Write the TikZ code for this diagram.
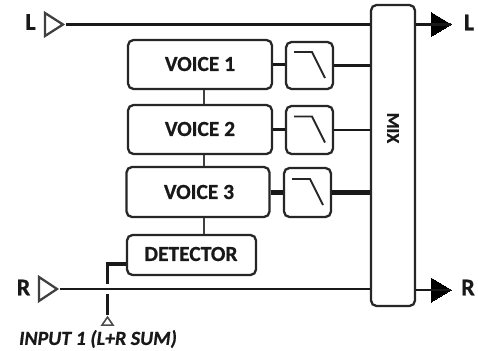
\documentclass[tikz,border=0pt]{standalone}
\usepackage{fontspec}
\setmainfont{Carlito}[BoldFeatures={FakeBold=0.8},BoldItalicFeatures={FakeBold=0.8}]
\usetikzlibrary{shapes.geometric,positioning}
\tikzset{
  x=1pt,y=-1pt,
  lbl/.style={font=\bfseries\fontsize{21.5}{24}\selectfont,text=black!90,inner sep=0pt},
  big/.style={lbl,font=\bfseries\fontsize{24}{26}\selectfont},
  blk/.style={draw=black!85,line width=2.3pt,rounded corners=5.5pt,inner sep=0pt,fill=white},
  sig/.style={draw=black!90,line width=2.5pt},
  fine/.style={draw=black!75,line width=1.5pt},
  intri/.style={isosceles triangle,isosceles triangle stretches,anchor=apex,draw=black!75,line width=2.3pt,fill=white,inner sep=0pt},
  outtri/.style={isosceles triangle,isosceles triangle stretches,anchor=apex,draw=black,fill=black,inner sep=0pt,line width=0pt},
  slope/.style={draw=black!85,line width=1.9pt},
}
\begin{document}
\begin{tikzpicture}
\useasboundingbox (0,0) rectangle (478,350);
% main blocks
\node[blk,minimum width=44pt,minimum height=301pt] (mix) at (393,155.5) {};
\node[lbl,rotate=-90,font=\bfseries\fontsize{18}{20}\selectfont] (mixt) at (393,128) {MIX};
\node[blk,minimum width=144pt,minimum height=49pt] (v1) at (200,64.5) {};
\node[blk,minimum width=144pt,minimum height=49pt] (v2) at (200,129.5) {};
\node[blk,minimum width=143pt,minimum height=50pt] (v3) at (198,192) {};
\node[blk,minimum width=129pt,minimum height=40pt] (det) at (191.5,255) {};
\node[lbl] (v1t) at (200,64) {VOICE 1};
\node[lbl] (v2t) at (200,129) {VOICE 2};
\node[lbl] (v3t) at (199,192) {VOICE 3};
\node[lbl] (dett) at (191,254) {DETECTOR};
\node[blk,minimum width=47pt,minimum height=47pt] (f1) at (309.5,65.5) {};
\node[blk,minimum width=47pt,minimum height=48pt] (f2) at (309.5,130) {};
\node[blk,minimum width=47pt,minimum height=49pt] (f3) at (307.5,192.5) {};
% filter slopes
\foreach \f in {f1,f2,f3}{
  \draw[slope] ([shift={(-15.5,-13.5)}]\f.center) -- ([shift={(2.5,-13.5)}]\f.center) -- ([shift={(15.5,12.5)}]\f.center);
}
% inputs and outputs
\node[intri,minimum height=18pt,minimum width=23pt] (inl) at (66,24.5) {};
\node[intri,minimum height=18pt,minimum width=24pt] (inr) at (60,289) {};
\node[outtri,minimum height=20pt,minimum width=24pt] (outl) at (451,24.5) {};
\node[outtri,minimum height=20pt,minimum width=24pt] (outr) at (451,290) {};
\node[big] (ll) at (30.5,22) {L};
\node[big] (rl) at (23.5,287.5) {R};
\node[big] (lr) at (469,22.5) {L};
\node[big] (rr) at (468,287.5) {R};
% signal lines
\draw[sig] (inl.apex) -- (inl.apex -| mix.west);
\draw[sig] (mix.east |- outl.apex) -- (outl.apex);
\draw[sig,line width=2.1pt] (inr.apex) -- (inr.apex -| mix.west);
\draw[sig,line width=2.1pt] (mix.east |- outr.apex) -- (outr.apex);
\draw[sig] (v1.east) -- (v1.east -| f1.west);
\draw[sig] (f1.east) -- (f1.east -| mix.west);
\draw[sig] (v2.east) -- (v2.east -| f2.west);
\draw[sig] (f2.east) -- (f2.east -| mix.west);
\draw[sig,line width=5pt] (v3.east) -- (v3.east -| f3.west);
\draw[sig,line width=5pt] (f3.east) -- (f3.east -| mix.west);
% voice chain
\coordinate (c1) at (204,0);
\draw[fine] (c1 |- v1.south) -- (c1 |- v2.north);
\draw[fine] (c1 |- v2.south) -- (c1 |- v3.north);
\draw[fine] (c1 |- v3.south) -- (c1 |- det.north);
% detector input
\node[isosceles triangle,isosceles triangle stretches,shape border rotate=90,anchor=apex,draw=black!70,line width=1.6pt,fill=white,inner sep=0pt,minimum width=11pt,minimum height=8pt] (in1) at (107.5,315) {};
\coordinate (dk) at (107.5,264);
\coordinate (g1) at (107.5,284);
\coordinate (g2) at (107.5,294);
\draw[sig,line width=3.2pt] (det.west |- dk) -- (dk) -- (g1);
\draw[sig,line width=2.6pt] (g2) -- (in1.apex);
\node[lbl,font=\bfseries\itshape\fontsize{20}{22}\selectfont] (in1t) at (98,339) {INPUT 1 (L+R SUM)};
\end{tikzpicture}
\end{document}
